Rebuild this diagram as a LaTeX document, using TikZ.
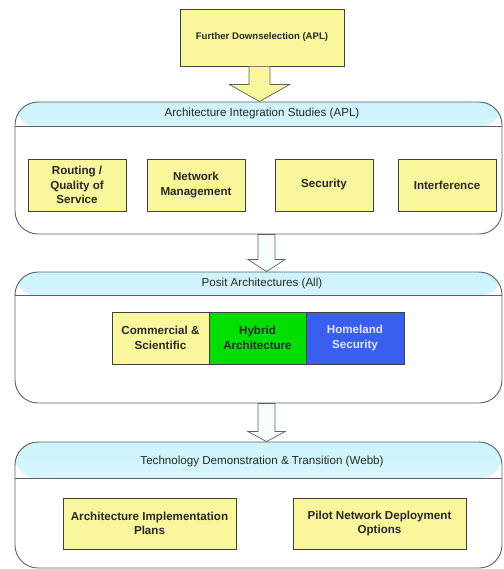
\documentclass[tikz,border=0pt]{standalone}
\usepackage{fontspec}
\setmainfont{Liberation Sans}
\usetikzlibrary{calc}
\definecolor{ylw}{RGB}{250,246,155}
\definecolor{grn}{RGB}{0,224,0}
\definecolor{blu}{RGB}{58,95,240}
\definecolor{hdr}{RGB}{205,243,252}
\definecolor{edge}{RGB}{95,95,95}
\definecolor{txt}{RGB}{40,40,40}
\begin{document}
\begin{tikzpicture}[x=1pt,y=-1pt,
  stagebox/.style={draw=edge, line width=0.9pt, rounded corners=23pt, minimum width=487pt, inner sep=0pt},
  hdrtext/.style={font=\fontsize{11.6}{14}\selectfont, text=txt},
  itembox/.style={draw=black!75, line width=0.8pt, fill=ylw, inner sep=0pt, align=center,
    font=\fontsize{11.6}{14.5}\selectfont\bfseries, text=txt},
  blockarrow/.style={draw=edge, line width=0.7pt}
]
\useasboundingbox (0,0) rectangle (503,569);

% top box
\node[itembox, minimum width=164pt, minimum height=57pt, font=\fontsize{9.6}{11}\selectfont\bfseries] (top) at (262,37.5) {Further Downselection (APL)};

% stage 1
\node[stagebox, minimum height=132pt, path picture={\shade[top color=hdr, bottom color=hdr!25!white]
  (path picture bounding box.north west) rectangle ([yshift=-25pt]path picture bounding box.north east);}] (s1) at (258.5,168) {};
\draw[edge, line width=0.9pt] ([yshift=-25pt]s1.north west) -- ([yshift=-25pt]s1.north east);
\node[hdrtext] (h1) at (262,114) {Architecture Integration Studies (APL)};
\node[itembox, minimum width=98pt, minimum height=52pt] (r1) at (77,185) {Routing /\\Quality of\\Service};
\node[itembox, minimum width=98pt, minimum height=52pt] (r2) at (196,185) {Network\\Management};
\node[itembox, minimum width=98pt, minimum height=52pt] (r3) at (324,185) {Security};
\node[itembox, minimum width=98pt, minimum height=52pt] (r4) at (447,185) {Interference};

% stage 2
\node[stagebox, minimum height=131pt, path picture={\shade[top color=hdr, bottom color=hdr!25!white]
  (path picture bounding box.north west) rectangle ([yshift=-24pt]path picture bounding box.north east);}] (s2) at (258.5,337.5) {};
\draw[edge, line width=0.9pt] ([yshift=-24pt]s2.north west) -- ([yshift=-24pt]s2.north east);
\node[hdrtext] (h2) at (262,283) {Posit Architectures (All)};
\node[itembox, minimum width=97pt, minimum height=52pt] (p1) at (160.5,338) {Commercial \&\\Scientific};
\node[itembox, minimum width=97pt, minimum height=52pt, fill=grn] (p2) at (257.5,338) {Hybrid\\Architecture};
\node[itembox, minimum width=98pt, minimum height=52pt, fill=blu, text={rgb,255:red,228;green,228;blue,255}] (p3) at (355,338) {Homeland\\Security};

% stage 3
\node[stagebox, minimum height=126pt, path picture={\shade[top color=hdr, bottom color=hdr!25!white]
  (path picture bounding box.north west) rectangle ([yshift=-37pt]path picture bounding box.north east);}] (s3) at (258.5,505) {};
\draw[edge, line width=0.9pt] ([yshift=-37pt]s3.north west) -- ([yshift=-37pt]s3.north east);
\node[hdrtext] (h3) at (262,461) {Technology Demonstration \& Transition (Webb)};
\node[itembox, minimum width=173pt, minimum height=51pt] (t1) at (149.5,523.5) {Architecture Implementation\\Plans};
\node[itembox, minimum width=173pt, minimum height=51pt] (t2) at (379.5,523.5) {Pilot Network Deployment\\Options};

% arrows
\coordinate (a1) at (top.south -| 259.5,0);
\coordinate (a1t) at (s1.north -| 259.5,0);
\draw[blockarrow, fill=ylw]
  ($(a1)+(-10.5,0)$) -- ($(a1)+(10.5,0)$) -- ($(a1t)+(10.5,-17)$) -- ($(a1t)+(30,-17)$) -- (a1t)
  -- ($(a1t)+(-30,-17)$) -- ($(a1t)+(-10.5,-17)$) -- cycle;

\coordinate (a2) at (s1.south -| 266.5,0);
\coordinate (a2t) at (s2.north -| 266.5,0);
\draw[blockarrow, fill=hdr!20!white]
  ($(a2)+(-8.5,0)$) -- ($(a2)+(8.5,0)$) -- ($(a2t)+(8.5,-12)$) -- ($(a2t)+(18.5,-12)$) -- (a2t)
  -- ($(a2t)+(-18.5,-12)$) -- ($(a2t)+(-8.5,-12)$) -- cycle;

\coordinate (a3) at (s2.south -| 266.5,0);
\coordinate (a3t) at (s3.north -| 266.5,0);
\draw[blockarrow, fill=hdr!20!white]
  ($(a3)+(-8.5,0)$) -- ($(a3)+(8.5,0)$) -- ($(a3t)+(8.5,-10)$) -- ($(a3t)+(18.5,-10)$) -- (a3t)
  -- ($(a3t)+(-18.5,-10)$) -- ($(a3t)+(-8.5,-10)$) -- cycle;
\end{tikzpicture}
\end{document}
